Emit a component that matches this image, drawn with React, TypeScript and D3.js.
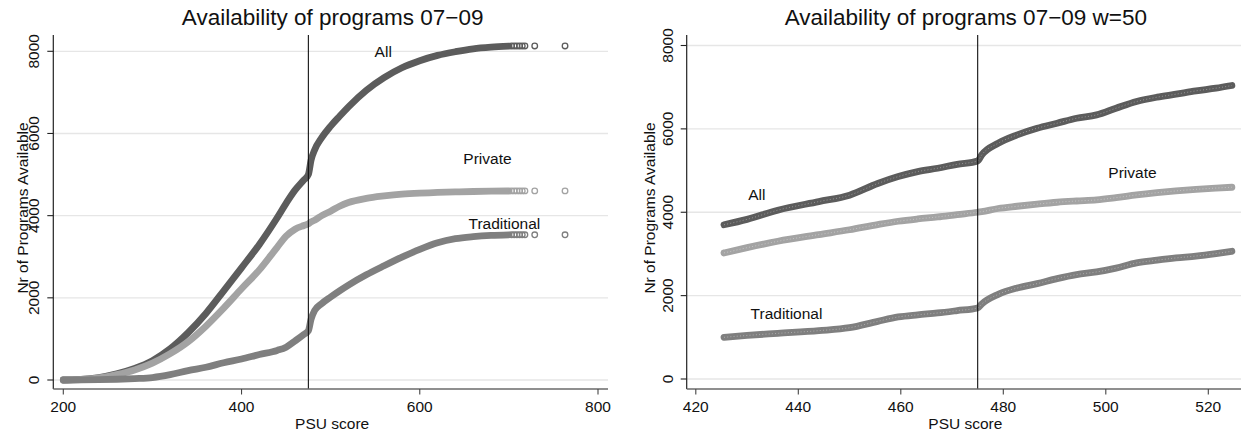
import React from 'react';
import * as d3 from 'd3';

const W = 1242;
const H = 437;
const FONT = '"Liberation Sans", Arial, Helvetica, sans-serif';

// ---------- Left panel data: Availability of programs 07-09 ----------
const LEFT_SCORES = [200, 210, 220, 240, 260, 280, 300, 320, 340, 360, 380, 400, 420, 440, 450, 460, 470, 475, 478, 482, 490, 500, 510, 520, 540, 560, 580, 600, 620, 640, 660, 680, 700];
const LEFT_ALL = [0, 5, 15, 60, 150, 280, 470, 760, 1150, 1620, 2170, 2730, 3300, 3950, 4300, 4620, 4870, 5000, 5350, 5600, 5900, 6180, 6420, 6650, 7050, 7360, 7600, 7770, 7900, 7990, 8060, 8100, 8125];
const LEFT_PRIVATE = [0, 4, 12, 52, 132, 245, 410, 640, 930, 1310, 1750, 2220, 2680, 3230, 3500, 3670, 3760, 3800, 3850, 3890, 4000, 4110, 4230, 4320, 4420, 4480, 4525, 4550, 4565, 4578, 4588, 4596, 4600];
const LEFT_TRADITIONAL = [0, 1, 3, 8, 18, 35, 60, 130, 230, 310, 420, 510, 620, 720, 800, 950, 1110, 1200, 1480, 1690, 1860, 2020, 2170, 2310, 2560, 2780, 2990, 3180, 3340, 3440, 3490, 3520, 3534];
const LEFT_TAIL_SCORES = [703, 706, 709, 712, 715, 718, 729, 763];
const LEFT_TAIL_ALL = [8130, 8130, 8130, 8130, 8130, 8130, 8130, 8130];
const LEFT_TAIL_PRIVATE = [4602, 4602, 4602, 4602, 4602, 4602, 4602, 4602];
const LEFT_TAIL_TRADITIONAL = [3534, 3534, 3534, 3534, 3534, 3534, 3534, 3534];

// ---------- Right panel data: w=50 ----------
const RIGHT_SCORES = [425.5, 430, 436, 444, 450, 455.5, 459.5, 463.3, 467.2, 471, 475, 475.8, 479, 482.7, 486.6, 490.5, 494.3, 498.2, 502, 506, 510, 513.7, 517.6, 521.5, 524.6];
const RIGHT_ALL = [3700, 3830, 4050, 4256, 4410, 4690, 4856, 4976, 5056, 5150, 5230, 5376, 5656, 5856, 6016, 6136, 6256, 6336, 6496, 6656, 6760, 6832, 6912, 6976, 7040];
const RIGHT_PRIVATE = [3024, 3150, 3304, 3464, 3580, 3704, 3784, 3840, 3888, 3944, 4000, 4015, 4090, 4144, 4195, 4240, 4270, 4296, 4350, 4416, 4470, 4512, 4550, 4580, 4600];
const RIGHT_TRADITIONAL = [1000, 1045, 1095, 1160, 1230, 1384, 1488, 1540, 1584, 1640, 1704, 1800, 2030, 2184, 2288, 2408, 2504, 2568, 2660, 2784, 2850, 2904, 2950, 3010, 3064];

// ---------- Axes / labels ----------
const LEFT_X_TICKS = [200, 400, 600, 800];
const RIGHT_X_TICKS = [420, 440, 460, 480, 500, 520];
const Y_TICKS = [0, 2000, 4000, 6000, 8000];
const CUTOFF = 475;
const SERIES_NAMES = ['All', 'Private', 'Traditional'];
const LEFT_LABEL_X = [559, 676, 695];
const LEFT_LABEL_Y = [8000, 5390, 3815];
const RIGHT_LABEL_X = [431.9, 505.2, 437.7];
const RIGHT_LABEL_Y = [4440, 4955, 1565];

const COLORS = ['#5c5c5c', '#a3a3a3', '#7f7f7f'];

type PanelProps = {
  title: string;
  xDomain: [number, number];
  xRange: [number, number];
  yRange: [number, number];
  frameLeft: number;
  frameRight: number;
  xTicks: number[];
  scores: number[];
  series: number[][];
  tailScores?: number[];
  tails?: number[][];
  labelX: number[];
  labelY: number[];
  yTickBaseline: number;
  yTitleBaseline: number;
  dotted: boolean;
};

const TOP = 35;
const BOTTOM = 389;

function Panel(p: PanelProps) {
  const x = d3.scaleLinear().domain(p.xDomain).range(p.xRange);
  const y = d3.scaleLinear().domain([0, 8000]).range(p.yRange);
  const line = d3
    .line<number>()
    .x((_, i) => x(p.scores[i]))
    .y((d) => y(d))
    .curve(d3.curveMonotoneX);
  const cx = (p.frameLeft + p.frameRight) / 2;
  return (
    <g fontFamily={FONT}>
      <text x={cx + 2} y={24.5} textAnchor="middle" fontSize={22.5} fill="#111">
        {p.title}
      </text>
      {/* grid */}
      {Y_TICKS.map((t) => (
        <line key={'g' + t} x1={p.frameLeft} x2={p.frameRight} y1={y(t)} y2={y(t)} stroke="#e6e6e6" strokeWidth={1.3} />
      ))}
      {/* series bands */}
      {p.series.map((s, k) => (
        <g key={'s' + k}>
          <path d={line(s) || ''} fill="none" stroke={COLORS[k]} strokeWidth={6.8} strokeLinecap="round" strokeLinejoin="round" />
          {p.dotted && (
            <path d={line(s) || ''} fill="none" stroke="#ffffff" strokeOpacity={0.35} strokeWidth={1} strokeDasharray="1 2.2" />
          )}
        </g>
      ))}
      {/* sparse tail markers */}
      {p.tails &&
        p.tailScores &&
        p.tails.map((t, k) =>
          t.map((v, i) => (
            <circle key={'t' + k + '_' + i} cx={x(p.tailScores![i])} cy={y(v)} r={2.8} fill="none" stroke={COLORS[k]} strokeWidth={1.3} />
          ))
        )}
      {/* cutoff line */}
      <line x1={x(CUTOFF)} x2={x(CUTOFF)} y1={TOP} y2={BOTTOM} stroke="#111" strokeWidth={1.1} />
      {/* y axis */}
      <line x1={p.frameLeft} x2={p.frameLeft} y1={TOP} y2={BOTTOM} stroke="#222" strokeWidth={1.2} />
      {Y_TICKS.map((t) => (
        <g key={'yt' + t}>
          <line x1={p.frameLeft - 6} x2={p.frameLeft} y1={y(t)} y2={y(t)} stroke="#222" strokeWidth={1.1} />
          <text
            transform={`translate(${p.yTickBaseline},${y(t)}) rotate(-90)`}
            textAnchor="middle"
            fontSize={15.5}
            fill="#111"
          >
            {t}
          </text>
        </g>
      ))}
      <text
        transform={`translate(${p.yTitleBaseline},208) rotate(-90)`}
        textAnchor="middle"
        fontSize={15.5}
        fill="#111"
      >
        Nr of Programs Available
      </text>
      {/* x axis */}
      <line x1={p.frameLeft} x2={p.frameRight} y1={BOTTOM} y2={BOTTOM} stroke="#6a6a6a" strokeWidth={1.6} />
      {p.xTicks.map((t) => (
        <g key={'xt' + t}>
          <line x1={x(t)} x2={x(t)} y1={BOTTOM} y2={BOTTOM + 5.5} stroke="#444" strokeWidth={1.1} />
          <text x={x(t)} y={411.5} textAnchor="middle" fontSize={15.5} fill="#111">
            {t}
          </text>
        </g>
      ))}
      <text x={cx + 1.5} y={428.5} textAnchor="middle" fontSize={15.5} fill="#111">
        PSU score
      </text>
      {/* series labels */}
      {SERIES_NAMES.map((n, i) => (
        <text key={'l' + n} x={x(p.labelX[i])} y={y(p.labelY[i]) + 5.6} textAnchor="middle" fontSize={15.5} fill="#111">
          {n}
        </text>
      ))}
    </g>
  );
}

export default function App() {
  return (
    <svg
      width={W}
      height={H}
      viewBox={`0 0 ${W} ${H}`}
      style={{ position: 'absolute', left: 0, top: 0, display: 'block', background: '#fff' }}
    >
      <rect x={0} y={0} width={W} height={H} fill="#fff" />
      <Panel
        title="Availability of programs 07−09"
        xDomain={[200, 800]}
        xRange={[63.3, 598]}
        yRange={[380, 51.3]}
        frameLeft={53.3}
        frameRight={608}
        xTicks={LEFT_X_TICKS}
        scores={LEFT_SCORES}
        series={[LEFT_ALL, LEFT_PRIVATE, LEFT_TRADITIONAL]}
        tailScores={LEFT_TAIL_SCORES}
        tails={[LEFT_TAIL_ALL, LEFT_TAIL_PRIVATE, LEFT_TAIL_TRADITIONAL]}
        labelX={LEFT_LABEL_X}
        labelY={LEFT_LABEL_Y}
        yTickBaseline={38.5}
        yTitleBaseline={27.5}
        dotted={false}
      />
      <Panel
        title="Availability of programs 07−09 w=50"
        xDomain={[420, 520]}
        xRange={[695.8, 1208.3]}
        yRange={[379, 45.5]}
        frameLeft={686.7}
        frameRight={1241}
        xTicks={RIGHT_X_TICKS}
        scores={RIGHT_SCORES}
        series={[RIGHT_ALL, RIGHT_PRIVATE, RIGHT_TRADITIONAL]}
        labelX={RIGHT_LABEL_X}
        labelY={RIGHT_LABEL_Y}
        yTickBaseline={673}
        yTitleBaseline={655}
        dotted={true}
      />
    </svg>
  );
}
